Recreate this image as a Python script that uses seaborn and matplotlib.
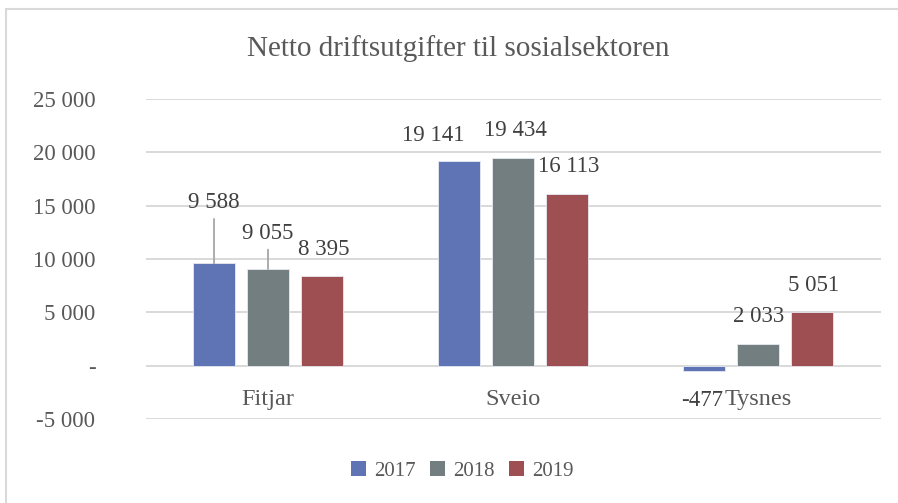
import matplotlib
matplotlib.use("Agg")
import matplotlib.pyplot as plt
import seaborn as sns
import pandas as pd
from matplotlib.patches import Rectangle

# ==============================
# DATA
# ==============================

kommuner = ["Fitjar", "Sveio", "Tysnes"]
years = ["2017", "2018", "2019"]
values_2017 = [9588, 19141, -477]
values_2018 = [9055, 19434, 2033]
values_2019 = [8395, 16113, 5051]
ytick_values = [-5000, 0, 5000, 10000, 15000, 20000, 25000]
ytick_labels = ["-5 000", "-", "5 000", "10 000", "15 000", "20 000", "25 000"]

TITLE = "Netto driftsutgifter til sosialsektoren"
COLORS = ["#5E74B5", "#727E80", "#9D4F51"]
TEXT = "#595959"
GRID = "#D9D9D9"

# label offsets in pixels (dx, dy) from bar top
label_offsets = {
    ("2017", "Fitjar"): (0, 61), ("2018", "Fitjar"): (0, 36), ("2019", "Fitjar"): (2, 27),
    ("2017", "Sveio"): (-26, 26), ("2018", "Sveio"): (2, 28), ("2019", "Sveio"): (2, 27),
    ("2017", "Tysnes"): (-2, -30), ("2018", "Tysnes"): (1, 27), ("2019", "Tysnes"): (2, 26),
}
leader = {("2017", "Fitjar"), ("2018", "Fitjar")}

rows = []
for year, vals in zip(years, [values_2017, values_2018, values_2019]):
    for k, v in zip(kommuner, vals):
        rows.append({"Kommune": k, "År": year, "Verdi": v})
df = pd.DataFrame(rows)


def fmt(v):
    return f"{v:,}".replace(",", " ")


# ==============================
# PLOT
# ==============================

sns.set_style("white")
plt.rcParams["font.family"] = ["Liberation Serif", "DejaVu Serif"]

fig = plt.figure(figsize=(8.98, 5.03), dpi=100)
ax = fig.add_axes([145.5 / 898, 1 - 419 / 503, 735 / 898, 320 / 503])

sns.barplot(data=df, x="Kommune", y="Verdi", hue="År", palette=COLORS,
            saturation=1, width=0.661, gap=0.213, edgecolor="#E8EAF2",
            linewidth=0.6, ax=ax, zorder=3, legend=False)

ax.set_xlim(-0.5, 2.5)
ax.set_ylim(-5000, 25000)
ax.set_yticks(ytick_values)
ax.set_yticklabels(ytick_labels, color=TEXT, fontsize=16.5)
ax.tick_params(axis="y", length=0, pad=36)
ax.set_xticks([])
ax.set_xlabel("")
ax.set_ylabel("")
for s in ax.spines.values():
    s.set_visible(False)
ax.grid(axis="y", color=GRID, linewidth=1.4, zorder=0)

# category labels next to zero line
for i, k in enumerate(kommuner):
    ax.annotate(k, (i, 0), xytext=(0, -34), textcoords="offset pixels",
                ha="center", va="center", fontsize=17.5, color=TEXT)

# data labels
for container, year in zip(ax.containers, years):
    for bar, k in zip(container, kommuner):
        val = df[(df["Kommune"] == k) & (df["År"] == year)]["Verdi"].iloc[0]
        xc = bar.get_x() + bar.get_width() / 2
        dx, dy = label_offsets[(year, k)]
        kw = {}
        if (year, k) in leader:
            kw["arrowprops"] = dict(arrowstyle="-", color="#A6A6A6", lw=1.3,
                                    shrinkA=2, shrinkB=0, relpos=(0.5, 0))
        ax.annotate(fmt(val), (xc, val), xytext=(dx, dy),
                    textcoords="offset pixels", ha="center", va="center",
                    fontsize=16.5, color="#404040", zorder=5, **kw)

# title
fig.text(458 / 898, 1 - 49 / 503, TITLE, ha="center", va="center",
         fontsize=21, color=TEXT)

# legend
handles = [Rectangle((0, 0), 1, 1, facecolor=c, edgecolor="none") for c in COLORS]
fig.legend(handles, years, loc="center", bbox_to_anchor=(462 / 898, 1 - 471 / 503),
           ncol=3, frameon=False, handlelength=0.75, handleheight=0.75,
           handletextpad=0.35, columnspacing=0.7,
           prop={"size": 15}, labelcolor=TEXT)

# chart border
fig.patches.append(Rectangle((6 / 898, -0.05), 1.0, 1 - 9 / 503 + 0.05,
                             transform=fig.transFigure, fill=False,
                             edgecolor=GRID, linewidth=1.5))

fig.savefig("out.png", dpi=100)
